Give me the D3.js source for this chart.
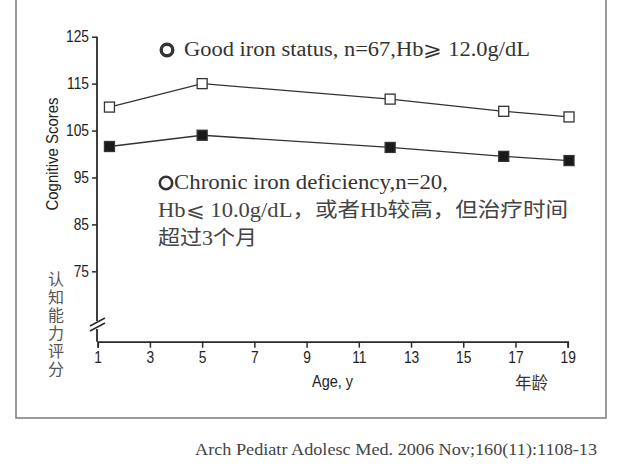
<!DOCTYPE html>
<html><head><meta charset="utf-8">
<script src="https://cdn.jsdelivr.net/npm/d3@7"></script>
<style>
html,body{margin:0;padding:0;background:#fff;}
svg{display:block;}
</style></head>
<body>
<svg id="c" width="618" height="470"></svg>
<script>
const ages = [1.45, 5.0, 12.2, 16.55, 19.05];
const goodIron = [110.0, 115.0, 111.7, 109.1, 107.9];
const chronicDef = [101.6, 104.0, 101.4, 99.5, 98.6];
const yTicks = [75, 85, 95, 105, 115, 125];
const xTicks = [1, 3, 5, 7, 9, 11, 13, 15, 17, 19];
const legend1 = "Good iron status, n=67,Hb\u2A7E 12.0g/dL";
const legend2 = ["Chronic iron deficiency,n=20,", "Hb\u2A7D 10.0g/dL，或者Hb较高，但治疗时间", "超过3个月"];
const yTitle = "Cognitive Scores";
const yTitleCn = "认知能力评分";
const xTitle = "Age, y";
const xTitleCn = "年龄";
const caption = "Arch Pediatr Adolesc Med. 2006 Nov;160(11):1108-13";

const svg = d3.select("#c");
const sans = "'Liberation Sans',Arial,sans-serif";
const serif = "'Liberation Serif','Times New Roman',serif";
const cjk = "'Liberation Serif','Noto Sans CJK SC',serif";

function condense(sel, f) {
  sel.each(function () {
    const L = this.getComputedTextLength();
    d3.select(this).attr("textLength", L * f).attr("lengthAdjust", "spacingAndGlyphs");
  });
}
function fit(sel, w) {
  sel.attr("textLength", w).attr("lengthAdjust", "spacingAndGlyphs");
}

// frame
svg.append("rect").attr("x", 16).attr("y", -2).attr("width", 590).attr("height", 420)
  .attr("fill", "#fff").attr("stroke", "#7a7a7a").attr("stroke-width", 1.5);

const x = d3.scaleLinear().domain([1, 19]).range([97.7, 567.7]);
const y = d3.scaleLinear().domain([60, 125]).range([341.7, 36.7]);

const axCol = "#2b2b2b";
// x axis
const xAxis = svg.append("g").attr("transform", `translate(0,${y(60)})`)
  .call(d3.axisBottom(x).tickValues(xTicks).tickSizeOuter(0).tickSize(6).tickPadding(4));
xAxis.select(".domain").attr("stroke", axCol).attr("stroke-width", 1.8);
xAxis.selectAll(".tick line").attr("stroke", axCol).attr("stroke-width", 1.5);
xAxis.selectAll(".tick text").attr("font-family", sans).attr("font-size", 16).attr("fill", "#222")
  .call(condense, 0.86);

// y axis (ticks only, domain drawn manually with break)
const ax0 = x(1) - 0.7;
const yAxis = svg.append("g").attr("transform", `translate(${ax0},0)`)
  .call(d3.axisLeft(y).tickValues(yTicks).tickSize(5).tickPadding(3));
yAxis.select(".domain").remove();
yAxis.selectAll(".tick line").attr("stroke", axCol).attr("stroke-width", 1.5);
yAxis.selectAll(".tick text").attr("font-family", sans).attr("font-size", 16).attr("fill", "#222")
  .call(condense, 0.86);

svg.append("line").attr("x1", ax0).attr("x2", ax0).attr("y1", y(125)).attr("y2", 321)
  .attr("stroke", axCol).attr("stroke-width", 1.8);
svg.append("line").attr("x1", ax0).attr("x2", ax0).attr("y1", 329).attr("y2", y(60))
  .attr("stroke", axCol).attr("stroke-width", 1.8);
[[90, 326, 105, 318], [90, 331, 105, 323]].forEach(d => {
  svg.append("line").attr("x1", d[0]).attr("y1", d[1]).attr("x2", d[2]).attr("y2", d[3])
    .attr("stroke", axCol).attr("stroke-width", 1.5);
});

// lines
const line = d3.line().x(d => x(d[0])).y(d => y(d[1]));
function series(vals, filled) {
  const pts = ages.map((a, i) => [a, vals[i]]);
  svg.append("path").datum(pts).attr("d", line).attr("fill", "none")
    .attr("stroke", "#333").attr("stroke-width", 1.3);
  const s = 10;
  svg.selectAll(null).data(pts).enter().append("rect")
    .attr("x", d => x(d[0]) - s / 2).attr("y", d => y(d[1]) - s / 2)
    .attr("width", s).attr("height", s)
    .attr("fill", filled ? "#1a1a1a" : "#fff")
    .attr("stroke", "#333").attr("stroke-width", 1.3);
}
series(goodIron, false);
series(chronicDef, true);

// legend annotations
svg.append("circle").attr("cx", 167).attr("cy", 50).attr("r", 5.8)
  .attr("fill", "none").attr("stroke", "#333").attr("stroke-width", 3.4);
svg.append("text").attr("x", 184).attr("y", 56).attr("font-family", serif)
  .attr("font-size", 20).attr("fill", "#333").text(legend1).call(fit, 346);

svg.append("circle").attr("cx", 166).attr("cy", 183).attr("r", 6.2)
  .attr("fill", "none").attr("stroke", "#333").attr("stroke-width", 2.6);
svg.append("text").attr("x", 174).attr("y", 189).attr("font-family", serif)
  .attr("font-size", 20).attr("fill", "#333").text(legend2[0]).call(fit, 274);
svg.append("text").attr("x", 158).attr("y", 217).attr("font-family", cjk)
  .attr("font-size", 20).attr("fill", "#444").text(legend2[1]).call(fit, 410);
svg.append("text").attr("x", 158).attr("y", 245).attr("font-family", cjk)
  .attr("font-size", 20).attr("fill", "#444").text(legend2[2]).call(fit, 99);

// axis titles
svg.append("text").attr("transform", "translate(58,154) rotate(-90)")
  .attr("text-anchor", "middle").attr("font-family", sans).attr("font-size", 16.5)
  .attr("fill", "#222").text(yTitle).call(fit, 113);

svg.append("text").attr("x", 56).attr("y", 271)
  .attr("writing-mode", "vertical-rl").attr("letter-spacing", 2)
  .attr("font-family", "'Noto Sans CJK SC',sans-serif").attr("font-size", 16)
  .attr("fill", "#555").text(yTitleCn);

svg.append("text").attr("x", 312).attr("y", 387).attr("font-family", sans)
  .attr("font-size", 16).attr("fill", "#222").text(xTitle).call(fit, 41);
svg.append("text").attr("x", 515).attr("y", 389).attr("font-family", "'Noto Sans CJK SC',sans-serif")
  .attr("font-size", 16.5).attr("fill", "#333").text(xTitleCn);

svg.append("text").attr("x", 195).attr("y", 455).attr("font-family", serif)
  .attr("font-size", 17.5).attr("fill", "#444").text(caption).call(fit, 402);
</script>
</body></html>
